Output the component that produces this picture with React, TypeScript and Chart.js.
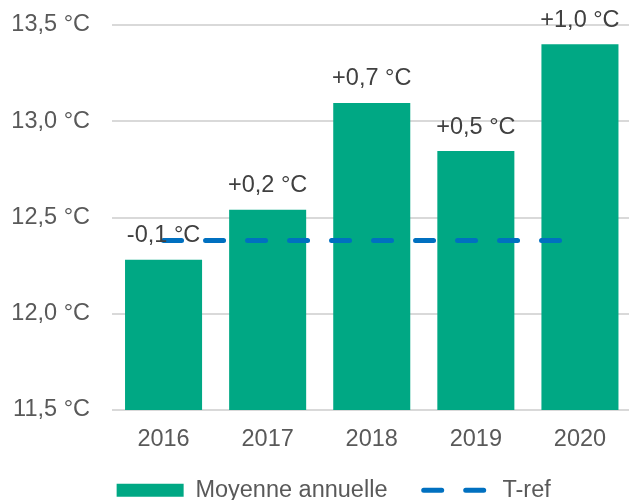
import React, { useEffect, useRef } from "react";
import { Chart, registerables } from "chart.js";

Chart.register(...registerables);

const categories = ["2016", "2017", "2018", "2019", "2020"];
const annualMeans = [12.28, 12.54, 13.095, 12.845, 13.4];
const tRefValues = [12.38, 12.38, 12.38, 12.38, 12.38];
const anomalies = [-0.1, 0.2, 0.7, 0.5, 1.0];
const yMin = 11.5;
const yMax = 13.5;
const yStep = 0.5;
const seriesNames = ["Moyenne annuelle", "T-ref"];

const FONT = "'Liberation Sans', Arial, sans-serif";
const FS = 23.5;
const GREEN = "#00A884";
const BLUE = "#0070C0";
const TEXT = "#595959";

const fmtDeg = (v: number) => v.toFixed(1).replace(".", ",") + " °C";
const fmtAnom = (v: number) => (v > 0 ? "+" : "") + fmtDeg(v);

const labelPlugin = {
  id: "barLabels",
  afterLayout(chart: any) {
    // widen label clip areas so tick labels are not cut off
    if (chart.scales.y) chart.scales.y.left = 0;
    if (chart.scales.x) chart.scales.x.bottom = chart.height;
  },
  afterDatasetsDraw(chart: any) {
    const ctx = chart.ctx;
    const meta = chart.getDatasetMeta(0);
    ctx.save();
    ctx.font = `${FS}px ${FONT}`;
    ctx.fillStyle = "#404040";
    ctx.textAlign = "center";
    ctx.textBaseline = "alphabetic";
    meta.data.forEach((bar: any, i: number) => {
      ctx.fillText(fmtAnom(anomalies[i]), bar.x, bar.y - 17.5);
    });
    ctx.restore();
  },
};

export default function App() {
  const ref = useRef<HTMLCanvasElement | null>(null);
  useEffect(() => {
    if (!ref.current) return;
    const chart = new Chart(ref.current, {
      type: "bar",
      data: {
        labels: categories,
        datasets: [
          {
            type: "bar",
            label: seriesNames[0],
            data: annualMeans,
            backgroundColor: GREEN,
            borderWidth: 0,
            categoryPercentage: 1,
            barPercentage: 0.74,
            order: 1,
          },
          {
            type: "line",
            label: seriesNames[1],
            data: tRefValues,
            borderColor: BLUE,
            backgroundColor: BLUE,
            borderWidth: 5,
            borderDash: [18, 24],
            borderCapStyle: "round",
            pointRadius: 0,
            fill: false,
            order: 0,
          } as any,
        ],
      },
      options: {
        responsive: false,
        animation: false,
        devicePixelRatio: 1,
        layout: { padding: { left: 35.4, right: 0, top: 25, bottom: 0 } },
        scales: {
          x: {
            grid: { display: false, drawTicks: false },
            border: { display: false },
            ticks: { color: TEXT, font: { family: FONT, size: FS }, padding: 15 },
            afterFit: (s: any) => {
              s.height = 32.25;
              s.paddingLeft = 0;
              s.paddingRight = 0;
            },
          },
          y: {
            min: yMin,
            max: yMax,
            grid: { color: "#D9D9D9", lineWidth: 2, drawTicks: false },
            border: { display: false },
            ticks: {
              stepSize: yStep,
              color: TEXT,
              padding: 21.5,
              font: { family: FONT, size: FS },
              callback: (v: any) => fmtDeg(Number(v)),
            },
            afterFit: (s: any) => {
              s.width = 76.1;
              s.paddingTop = 0;
              s.paddingBottom = 0;
            },
          },
        },
        plugins: {
          tooltip: { enabled: false },
          legend: {
            position: "bottom",
            labels: {
              usePointStyle: true,
              pointStyleWidth: 67,
              boxHeight: 13,
              padding: 36.25,
              color: TEXT,
              font: { family: FONT, size: FS },
              generateLabels: () => [
                {
                  text: seriesNames[0],
                  fillStyle: GREEN,
                  strokeStyle: GREEN,
                  lineWidth: 0,
                  pointStyle: "rect",
                  hidden: false,
                  datasetIndex: 0,
                  fontColor: TEXT,
                },
                {
                  text: seriesNames[1],
                  fillStyle: "rgba(0,0,0,0)",
                  strokeStyle: BLUE,
                  lineWidth: 5,
                  lineDash: [18, 24],
                  lineCap: "round",
                  pointStyle: "line",
                  hidden: false,
                  datasetIndex: 1,
                  fontColor: TEXT,
                },
              ],
            },
          },
        },
      } as any,
      plugins: [labelPlugin],
    });
    return () => chart.destroy();
  }, []);
  return (
    <div
      style={{
        position: "fixed",
        left: 0,
        top: 0,
        width: 629,
        height: 500,
        overflow: "hidden",
        background: "#fff",
      }}
    >
      <canvas ref={ref} width={632} height={512} style={{ display: "block", width: 632, height: 512 }} />
    </div>
  );
}
